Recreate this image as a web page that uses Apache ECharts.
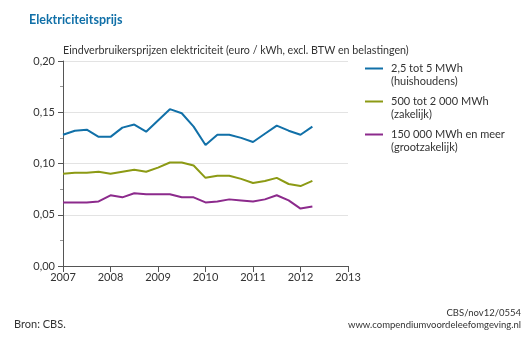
<!DOCTYPE html>
<html><head><meta charset="utf-8">
<script src="https://cdn.jsdelivr.net/npm/echarts@6/dist/echarts.min.js"></script>
<style>html,body{margin:0;padding:0;background:#fff}#c{width:532px;height:342px}</style>
</head><body><div id="c"></div>
<script>
const periods = [2007, 2007.25, 2007.5, 2007.75, 2008, 2008.25, 2008.5, 2008.75, 2009, 2009.25, 2009.5, 2009.75,
  2010, 2010.25, 2010.5, 2010.75, 2011, 2011.25, 2011.5, 2011.75, 2012, 2012.25];
const huishoudens = [0.128, 0.132, 0.133, 0.126, 0.126, 0.135, 0.138, 0.131, 0.142, 0.153, 0.149, 0.136,
  0.118, 0.128, 0.128, 0.125, 0.121, 0.129, 0.137, 0.132, 0.128, 0.136];
const zakelijk = [0.090, 0.091, 0.091, 0.092, 0.090, 0.092, 0.094, 0.092, 0.096, 0.101, 0.101, 0.098,
  0.086, 0.088, 0.088, 0.085, 0.081, 0.083, 0.086, 0.080, 0.078, 0.083];
const grootzakelijk = [0.062, 0.062, 0.062, 0.063, 0.069, 0.067, 0.071, 0.070, 0.070, 0.070, 0.067, 0.067,
  0.062, 0.063, 0.065, 0.064, 0.063, 0.065, 0.069, 0.064, 0.056, 0.058];
const seriesNames = ['2,5 tot 5 MWh\n(huishoudens)', '500 tot 2 000 MWh\n(zakelijk)', '150 000 MWh en meer\n(grootzakelijk)'];
const colors = ['#1170a8', '#8c9a14', '#8c2a8c'];
const FONT = 'Lato';

const chart = echarts.init(document.getElementById('c'), null, {renderer: 'canvas'});
const mk = (name, vals, color) => ({
  name, type: 'line', data: periods.map((p, i) => [p, vals[i]]),
  showSymbol: false, symbol: 'none', lineStyle: {color, width: 2}, itemStyle: {color}, animation: false
});
chart.setOption({
  animation: false,
  textStyle: {fontFamily: FONT},
  title: [
    {text: 'Elektriciteitsprijs', left: 24, top: 8, textStyle: {fontFamily: FONT, fontSize: 12.5, fontWeight: 'bold', color: '#1170a8'}},
    {text: 'Eindverbruikersprijzen elektriciteit (euro / kWh, excl. BTW en belastingen)', left: 58, top: 40,
      textStyle: {fontFamily: FONT, fontSize: 10.7, fontWeight: 'normal', color: '#333'}}
  ],
  legend: {
    orient: 'vertical', left: 360, top: 44, itemWidth: 18, itemHeight: 2, itemGap: -6,
    icon: 'rect',
    formatter: name => '\n' + name,
    textStyle: {fontFamily: FONT, fontSize: 11, color: '#333', lineHeight: 13, padding: [0, 0, 0, 3]},
    data: seriesNames
  },
  grid: {left: 63, right: 184, top: 61, bottom: 76, containLabel: false},
  xAxis: {
    type: 'value', min: 2007, max: 2013, interval: 1,
    axisLine: {lineStyle: {color: '#555'}},
    axisTick: {show: true, length: 6, lineStyle: {color: '#555'}},
    splitLine: {show: false},
    axisLabel: {color: '#333', fontSize: 11, margin: 6, fontFamily: FONT, formatter: v => String(v)}
  },
  yAxis: {
    type: 'value', min: 0, max: 0.2, interval: 0.05,
    axisLine: {show: true, lineStyle: {color: '#555'}},
    axisTick: {show: true, length: 5, lineStyle: {color: '#555'}},
    minorTick: {show: true, splitNumber: 2, length: 3, lineStyle: {color: '#999'}},
    splitLine: {show: true, lineStyle: {color: '#e3e3e3'}},
    axisLabel: {color: '#333', fontSize: 11, margin: 8, fontFamily: FONT, formatter: v => v.toFixed(2).replace('.', ',')}
  },
  series: [
    mk(seriesNames[0], huishoudens, colors[0]),
    mk(seriesNames[1], zakelijk, colors[1]),
    mk(seriesNames[2], grootzakelijk, colors[2])
  ],
  graphic: [
    {type: 'text', left: 14, top: 319, style: {text: 'Bron: CBS.', font: '11px Lato', fill: '#333'}},
    {type: 'text', right: 11, top: 308, style: {text: 'CBS/nov12/0554', font: '9.5px Lato', fill: '#333', textAlign: 'right'}},
    {type: 'text', right: 11, top: 320, style: {text: 'www.compendiumvoordeleefomgeving.nl', font: '9.5px Lato', fill: '#333', textAlign: 'right'}}
  ]
});
</script></body></html>
